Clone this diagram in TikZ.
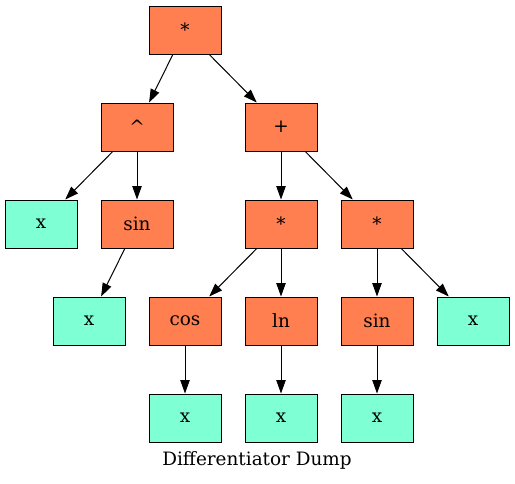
\documentclass[tikz,border=0pt]{standalone}
\usepackage{fontspec}
\setmainfont{DejaVu Serif}
\usetikzlibrary{arrows.meta}
\definecolor{opcol}{HTML}{FF7F50}
\definecolor{leafcol}{HTML}{7FFFD4}
\begin{document}
\begin{tikzpicture}[x=0.75pt,y=-0.75pt,
  lbl/.style={font=\fontsize{13.8pt}{16pt}\selectfont},
  box/.style={lbl,draw=black,line width=0.75pt,minimum width=54pt,minimum height=36pt,inner sep=0pt},
  op/.style={box,fill=opcol},
  leaf/.style={box,fill=leafcol},
  edge/.style={line width=0.75pt,-{Triangle[length=10pt,width=7pt]}}]
\useasboundingbox (0,0) rectangle (515,483);
\node[op] (r) at (185,30) {*};
\node[op] (pow) at (137,127) {\^{}};
\node[op] (plus) at (281,127) {+};
\node[leaf] (x1) at (41,224) {x};
\node[op] (sin1) at (137,224) {sin};
\node[op] (m1) at (281,224) {*};
\node[op] (m2) at (377,224) {*};
\node[leaf] (x2) at (89,321) {x};
\node[op] (cos) at (185,321) {cos};
\node[op] (ln) at (281,321) {ln};
\node[op] (sin2) at (377,321) {sin};
\node[leaf] (x3) at (473,321) {x};
\node[leaf] (x4) at (185,418) {x};
\node[leaf] (x5) at (281,418) {x};
\node[leaf] (x6) at (377,418) {x};
\node[lbl] (cap) at (257,460) {Differentiator Dump};
\draw[edge] (r) -- (pow);
\draw[edge] (r) -- (plus);
\draw[edge] (pow) -- (x1);
\draw[edge] (pow) -- (sin1);
\draw[edge] (sin1) -- (x2);
\draw[edge] (plus) -- (m1);
\draw[edge] (plus) -- (m2);
\draw[edge] (m1) -- (cos);
\draw[edge] (m1) -- (ln);
\draw[edge] (m2) -- (sin2);
\draw[edge] (m2) -- (x3);
\draw[edge] (cos) -- (x4);
\draw[edge] (ln) -- (x5);
\draw[edge] (sin2) -- (x6);
\end{tikzpicture}
\end{document}
